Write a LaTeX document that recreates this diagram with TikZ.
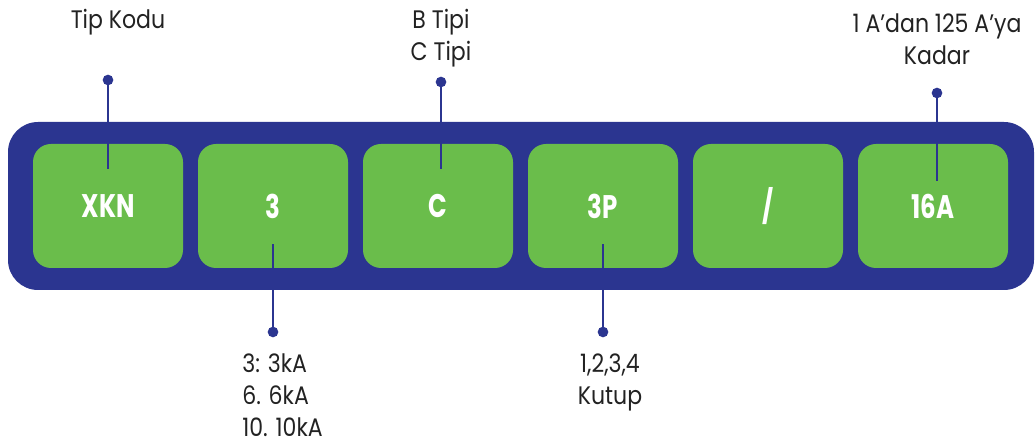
\documentclass[tikz,border=0pt]{standalone}
\usepackage{fontspec}
\setmainfont[FakeStretch=0.87]{Poppins}
\newfontfamily\codefont[FakeStretch=0.75]{Poppins}
\usepackage{tikz}
\usetikzlibrary{calc}

\definecolor{xblue}{HTML}{2B3590}
\definecolor{xgreen}{HTML}{6ABD4B}
\definecolor{xtext}{HTML}{222222}

\tikzset{
  codebox/.style={fill=xgreen, rounded corners=13.5pt, minimum width=112.5pt,
    minimum height=93pt, inner sep=0pt, text=white, font=\codefont\bfseries\fontsize{24.5}{26}\selectfont},
  lbl/.style={text=xtext, align=center, font=\fontsize{19}{24}\selectfont, inner sep=0pt},
  pin/.style={draw=xblue, line width=2pt},
  pindot/.style={fill=xblue, circle, inner sep=0pt, minimum size=8pt}
}

\begin{document}
\begin{tikzpicture}[x=0.75pt,y=0.75pt]
\useasboundingbox (0,0) rectangle (1036,445);

% outer band
\fill[xblue, rounded corners=22.5pt] (8,155) rectangle (1034,323);

% code fields
\node[codebox] (xkn) at (108,239) {XKN};
\node[codebox] (ka) at (273,239) {3};
\node[codebox] (tip) at (438,239) {C};
\node[codebox] (pol) at (603,239) {3P};
\node[codebox] (sep) at (768,239) {/};
\node[codebox] (amp) at (933,239) {16A};

% pins
\node[pindot] (d1) at (108,365) {};
\node[pindot] (d2) at (273,113) {};
\node[pindot] (d3) at (441,363) {};
\node[pindot] (d4) at (603,113) {};
\node[pindot] (d5) at (937,352) {};

\draw[pin] (d1.center) -- ($(xkn.center)+(0,37)$);
\draw[pin] (d2.center) -- ($(ka.center)+(0,-38)$);
\draw[pin] (d3.center) -- ($(tip.center)+(3,37)$);
\draw[pin] (d4.center) -- ($(pol.center)+(0,-38)$);
\draw[pin] (d5.center) -- ($(amp.center)+(4,25)$);

% labels
\node[lbl] (l1) at (118,423) {Tip Kodu};
\node[lbl] (l3) at (441,407) {B Tipi\\C Tipi};
\node[lbl] (l5) at (937,406) {1 A’dan 125 A’ya\\Kadar};
\node[lbl, align=left, anchor=west] (l2) at (242,50) {3: 3kA\\6. 6kA\\10. 10kA};
\node[lbl] (l4) at (610,63) {1,2,3,4\\Kutup};
\end{tikzpicture}
\end{document}
